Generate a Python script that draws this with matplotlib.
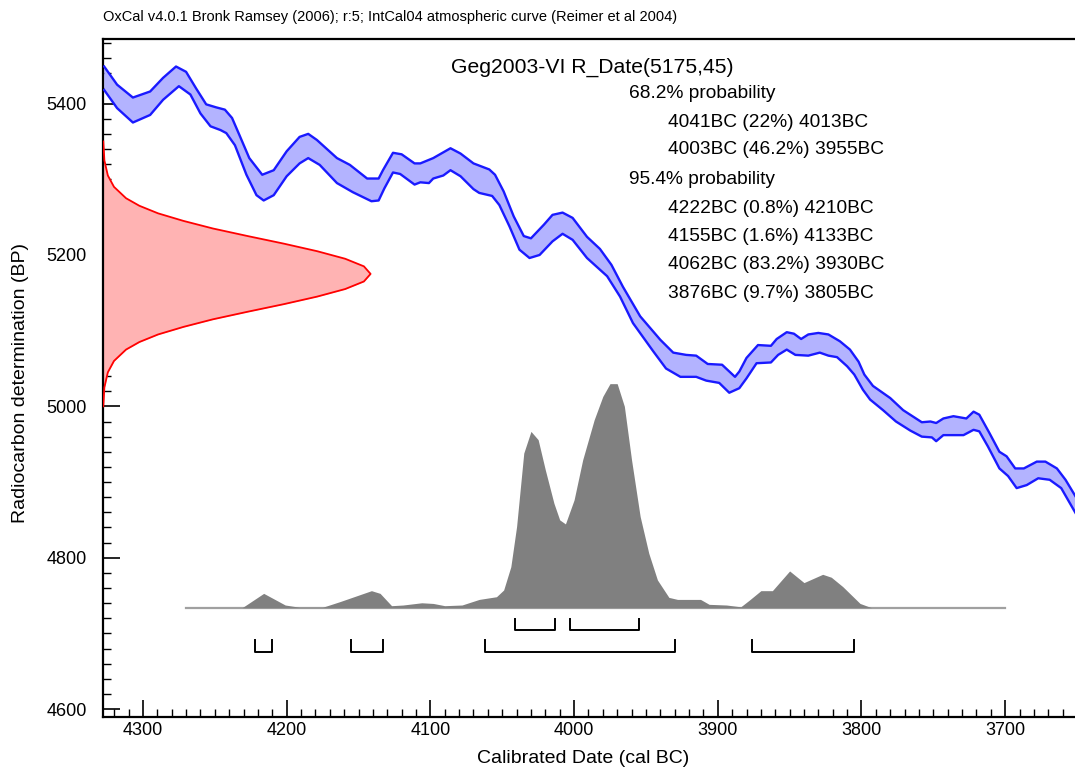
import numpy as np
import matplotlib
matplotlib.use("Agg")
import matplotlib.pyplot as plt
from matplotlib.ticker import MultipleLocator

plt.rcParams['font.family'] = ['Liberation Sans', 'DejaVu Sans']

# calibration curve envelope (upper / lower edge), cal BC vs BP
upper_year = [4327, 4318, 4307, 4295, 4286, 4277, 4270, 4263, 4256, 4249, 4243, 4238,
              4233, 4226, 4217, 4209, 4200, 4191, 4185, 4179, 4165, 4156, 4144, 4136,
              4133, 4126, 4120, 4111, 4107, 4098, 4086, 4079, 4070, 4059, 4055, 4049,
              4042, 4035, 4030, 4021, 4015, 4008, 4001, 3991, 3982, 3974, 3966, 3954,
              3940, 3931, 3922, 3915, 3907, 3897, 3888, 3885, 3880, 3872, 3863, 3859,
              3852, 3847, 3842, 3837, 3830, 3823, 3815, 3808, 3802, 3798, 3792, 3780,
              3771, 3758, 3752, 3748, 3743, 3736, 3727, 3722, 3718, 3711, 3704, 3699,
              3693, 3687, 3678, 3672, 3664, 3658, 3651]
upper_bp = [5449, 5425, 5408, 5416, 5434, 5449, 5442, 5420, 5399, 5395, 5392, 5381,
            5359, 5328, 5306, 5312, 5337, 5356, 5360, 5352, 5328, 5319, 5301, 5301,
            5312, 5335, 5333, 5321, 5321, 5328, 5341, 5334, 5321, 5313, 5306, 5284,
            5251, 5225, 5222, 5240, 5253, 5256, 5249, 5224, 5208, 5187, 5158, 5119,
            5088, 5071, 5068, 5067, 5056, 5055, 5039, 5046, 5064, 5081, 5080, 5089,
            5098, 5096, 5089, 5095, 5097, 5095, 5086, 5075, 5059, 5042, 5027, 5011,
            4995, 4979, 4980, 4978, 4984, 4987, 4984, 4993, 4989, 4965, 4940, 4934,
            4918, 4918, 4927, 4927, 4918, 4903, 4881]
lower_year = [4327, 4318, 4307, 4295, 4286, 4275, 4267, 4260, 4253, 4246, 4242, 4236,
              4228, 4221, 4216, 4209, 4200, 4191, 4185, 4177, 4165, 4154, 4141, 4136,
              4132, 4126, 4121, 4111, 4107, 4101, 4098, 4091, 4086, 4079, 4070, 4066,
              4057, 4052, 4045, 4038, 4031, 4024, 4015, 4008, 4001, 3991, 3977, 3968,
              3959, 3945, 3936, 3926, 3915, 3908, 3899, 3892, 3885, 3880, 3873, 3863,
              3858, 3852, 3846, 3837, 3829, 3823, 3817, 3810, 3805, 3799, 3794, 3785,
              3776, 3766, 3758, 3751, 3748, 3743, 3736, 3729, 3722, 3718, 3712, 3704,
              3698, 3692, 3685, 3677, 3669, 3661, 3651]
lower_bp = [5418, 5394, 5375, 5385, 5405, 5423, 5412, 5387, 5370, 5365, 5361, 5345,
            5306, 5279, 5272, 5279, 5304, 5321, 5328, 5319, 5295, 5283, 5271, 5272,
            5288, 5309, 5307, 5293, 5296, 5295, 5301, 5305, 5312, 5304, 5287, 5282,
            5278, 5266, 5238, 5207, 5196, 5200, 5218, 5228, 5220, 5196, 5172, 5145,
            5110, 5073, 5050, 5039, 5039, 5034, 5031, 5018, 5024, 5037, 5057, 5058,
            5068, 5075, 5068, 5067, 5071, 5067, 5065, 5053, 5042, 5022, 5009, 4995,
            4980, 4968, 4960, 4959, 4954, 4962, 4962, 4962, 4969, 4967, 4947, 4918,
            4908, 4892, 4896, 4905, 4903, 4892, 4859]

# radiocarbon date R_Date(5175,45): BP and relative density
date_bp = [5350, 5325, 5305, 5290, 5275, 5265, 5255, 5245, 5235, 5225, 5215, 5205,
           5195, 5185, 5175, 5165, 5155, 5145, 5135, 5125, 5115, 5105, 5095, 5085,
           5075, 5060, 5045, 5025, 5000]
date_dens = [0, 0.004, 0.017, 0.04, 0.085, 0.135, 0.205, 0.30, 0.41, 0.54, 0.675, 0.80,
             0.905, 0.975, 1.0, 0.975, 0.905, 0.80, 0.675, 0.54, 0.41, 0.30, 0.205, 0.135,
             0.085, 0.04, 0.017, 0.004, 0]

# calibrated probability (relative)
cal_year = [4231, 4216, 4201, 4191, 4175, 4163, 4141, 4135, 4127, 4119, 4106, 4098,
            4090, 4078, 4066, 4054, 4049, 4044, 4040, 4035, 4030, 4025, 4020, 4014,
            4010, 4006, 4000, 3994, 3986, 3980, 3975, 3970, 3965, 3960, 3954, 3948,
            3942, 3934, 3928, 3912, 3906, 3894, 3884, 3878, 3870, 3862, 3850, 3840,
            3827, 3821, 3813, 3801, 3793]
cal_prob = [0, 0.064, 0.012, 0.002, 0.002, 0.027, 0.076, 0.064, 0.009, 0.012, 0.022, 0.019,
            0.009, 0.012, 0.037, 0.049, 0.079, 0.183, 0.362, 0.69, 0.787, 0.75, 0.615, 0.466,
            0.392, 0.374, 0.481, 0.66, 0.839, 0.943, 1.0, 1.0, 0.899, 0.66, 0.407, 0.243,
            0.124, 0.046, 0.037, 0.037, 0.015, 0.012, 0.004, 0.034, 0.076, 0.076, 0.164, 0.112,
            0.149, 0.136, 0.094, 0.019, 0]

range_68 = [(4041, 4013), (4003, 3955)]
range_95 = [(4222, 4210), (4155, 4133), (4062, 3930), (3876, 3805)]

header = "OxCal v4.0.1 Bronk Ramsey (2006); r:5; IntCal04 atmospheric curve (Reimer et al 2004)"
sample = "Geg2003-VI R_Date(5175,45)"
text_68 = ["4041BC (22%) 4013BC", "4003BC (46.2%) 3955BC"]
text_95 = ["4222BC (0.8%) 4210BC", "4155BC (1.6%) 4133BC",
           "4062BC (83.2%) 3930BC", "3876BC (9.7%) 3805BC"]

W, H = 1075, 775
fig = plt.figure(figsize=(W / 100, H / 100), dpi=100)
ax = fig.add_axes([103.3 / W, 1 - 716.7 / H, (W - 103.3) / W, (716.7 - 38.5) / H])
x_left, x_right = 4327.6, 3651.4
ax.set_xlim(x_left, x_right)
ax.set_ylim(4590, 5486)

# calibration curve band
ax.fill(np.r_[upper_year, lower_year[::-1]], np.r_[upper_bp, lower_bp[::-1]],
        color='#b3b3ff', lw=0, zorder=2)
ax.plot(upper_year, upper_bp, color='#1a1aff', lw=1.7, zorder=3)
ax.plot(lower_year, lower_bp, color='#1a1aff', lw=1.7, zorder=3)

# measured date on the y axis
date_x = x_left - np.array(date_dens) * 186
ax.fill_betweenx(date_bp, x_left, date_x, color='#ffb3b3', lw=0, zorder=2)
ax.plot(date_x, date_bp, color='#ff0000', lw=1.3, zorder=3)

# calibrated distribution
base, scale = 4734, 296
ax.plot([4270, 3700], [base, base], color='#a0a0a0', lw=1.6, zorder=2)
ax.fill_between(cal_year, base, base + np.array(cal_prob) * scale,
                color='#808080', lw=0, zorder=3)

# range brackets
for ranges, top, bot in [(range_68, 4719, 4704), (range_95, 4691, 4676)]:
    for a, b in ranges:
        ax.plot([a, a, b, b], [top, bot, bot, top], color='black', lw=1.4, zorder=3)

ax.xaxis.set_major_locator(MultipleLocator(100))
ax.xaxis.set_minor_locator(MultipleLocator(10))
ax.yaxis.set_major_locator(MultipleLocator(200))
ax.yaxis.set_minor_locator(MultipleLocator(20))
ax.tick_params(which='both', direction='in', top=False, right=False, color='black')
ax.tick_params(which='major', length=12, width=1.2, labelsize=13)
ax.tick_params(which='minor', length=6, width=1.0)
ax.tick_params(axis='y', which='major', pad=12)
ax.tick_params(axis='x', which='major', pad=4)
ax.spines['right'].set_visible(False)
for s in ['left', 'bottom', 'top']:
    ax.spines[s].set_linewidth(1.6)

ax.set_xlabel('Calibrated Date (cal BC)', fontsize=14)
ax.xaxis.set_label_coords(0.494, -0.049)
ax.set_ylabel('Radiocarbon determination (BP)', fontsize=14)
ax.yaxis.set_label_coords(-0.0765, 0.492)

# text block
fig.text(103 / W, 1 - 21 / H, header, fontsize=10.5, va='baseline')
fig.text(592 / W, 1 - 72.7 / H, sample, fontsize=15.2, ha='center', va='baseline')
fig.text(629 / W, 1 - 98.3 / H, "68.2% probability", fontsize=13.8, va='baseline')
for t, yb in zip(text_68, [126.7, 154.5]):
    fig.text(668 / W, 1 - yb / H, t, fontsize=13.8, va='baseline')
fig.text(629 / W, 1 - 184 / H, "95.4% probability", fontsize=13.8, va='baseline')
for t, yb in zip(text_95, [212.7, 241, 269.3, 298.3]):
    fig.text(668 / W, 1 - yb / H, t, fontsize=13.8, va='baseline')

fig.savefig('out.png', dpi=100)
